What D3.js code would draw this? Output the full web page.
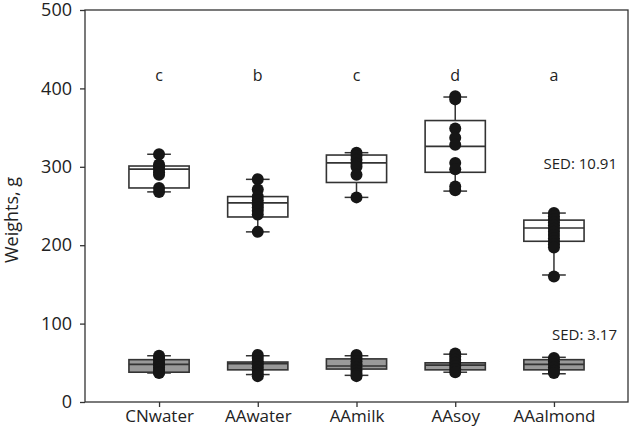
<!DOCTYPE html>
<html>
<head>
<meta charset="utf-8">
<script src="https://cdn.jsdelivr.net/npm/d3@7"></script>
<style>
  body { margin: 0; background: #fff; }
  svg { font-family: "Open Sans", sans-serif; }
</style>
</head>
<body>
<div id="chart"></div>
<script>
const categories = ['CNwater', 'AAwater', 'AAmilk', 'AAsoy', 'AAalmond'];
const letters = ['c', 'b', 'c', 'd', 'a'];
const yTicks = [0, 100, 200, 300, 400, 500];

// box stats: [whisker low, q1, median, q3, whisker high]
const totalBox = [
  [268, 273, 297, 301, 316],
  [217, 236, 254, 262, 284],
  [261, 280, 305, 315, 318],
  [269, 293, 326, 359, 389],
  [162, 205, 222, 232, 241]
];
const totalPoints = [
  [316, 303, 300, 297, 293, 290, 273, 268],
  [284, 271, 262, 257, 252, 248, 244, 239, 217],
  [318, 314, 309, 304, 300, 290, 261],
  [390, 386, 349, 337, 328, 305, 297, 275, 270],
  [241, 237, 233, 229, 225, 221, 217, 213, 209, 205, 201, 197, 160]
];
const partBox = [
  [37, 38, 48, 54, 59],
  [35, 41, 49, 51, 59],
  [34, 42, 46, 55, 59],
  [38, 41, 47, 50, 61],
  [36, 41, 48, 54, 57]
];
const partPoints = [
  [59, 56, 53, 50, 47, 44, 41, 38, 37],
  [60, 56, 52, 48, 44, 40, 36, 33],
  [60, 56, 52, 48, 44, 40, 36, 33],
  [62, 58, 54, 50, 46, 42, 38],
  [56, 52, 48, 44, 40, 37]
];
const sedLabels = [{ text: 'SED: 10.91', v: 297 }, { text: 'SED: 3.17', v: 79 }];

const width = 630;
const height = 429;
const margin = { top: 10, right: 2, bottom: 27, left: 85 };

const svg = d3.select('#chart')
  .append('svg')
  .attr('width', width)
  .attr('height', height);

const x = d3.scaleLinear()
  .domain([0.25, 5.75])
  .range([margin.left, width - margin.right]);

const y = d3.scaleLinear()
  .domain([0, 500])
  .range([height - margin.bottom, margin.top]);

const boxW = 0.61;
const capW = 0.24;
const ink = '#333';

function drawGroup(stats, points, fill) {
  const g = svg.append('g');
  stats.forEach((s, i) => {
    const cx = i + 1;
    // whisker line
    g.append('line')
      .attr('x1', x(cx)).attr('x2', x(cx))
      .attr('y1', y(s[0])).attr('y2', y(s[4]))
      .attr('stroke', ink).attr('stroke-width', 1.5);
    [s[0], s[4]].forEach(v => {
      g.append('line')
        .attr('x1', x(cx - capW / 2)).attr('x2', x(cx + capW / 2))
        .attr('y1', y(v)).attr('y2', y(v))
        .attr('stroke', ink).attr('stroke-width', 1.5);
    });
    g.append('rect')
      .attr('x', x(cx - boxW / 2))
      .attr('width', x(cx + boxW / 2) - x(cx - boxW / 2))
      .attr('y', y(s[3]))
      .attr('height', y(s[1]) - y(s[3]))
      .attr('fill', fill)
      .attr('stroke', ink).attr('stroke-width', 1.6);
    g.append('line')
      .attr('x1', x(cx - boxW / 2)).attr('x2', x(cx + boxW / 2))
      .attr('y1', y(s[2])).attr('y2', y(s[2]))
      .attr('stroke', ink).attr('stroke-width', 1.6);
    g.selectAll(null)
      .data(points[i])
      .join('circle')
        .attr('cx', x(cx))
        .attr('cy', d => y(d))
        .attr('r', 6)
        .attr('fill', '#161616');
  });
}

drawGroup(totalBox, totalPoints, '#fff');
drawGroup(partBox, partPoints, '#999');

// frame
svg.append('rect')
  .attr('x', margin.left).attr('y', margin.top)
  .attr('width', width - margin.right - margin.left)
  .attr('height', height - margin.bottom - margin.top)
  .attr('fill', 'none').attr('stroke', ink).attr('stroke-width', 1.3);

svg.append('g')
  .attr('transform', `translate(${margin.left},0)`)
  .call(d3.axisLeft(y).tickValues(yTicks).tickSize(5).tickPadding(8))
  .call(g => g.select('.domain').remove())
  .call(g => g.selectAll('line').attr('stroke', ink).attr('stroke-width', 1.3))
  .call(g => g.selectAll('text').attr('font-size', '18px').attr('fill', '#222'))
  .attr('font-family', null);

svg.append('g')
  .attr('transform', `translate(0,${height - margin.bottom})`)
  .call(d3.axisBottom(x).tickValues(d3.range(1, 6)).tickFormat(d => categories[d - 1]).tickSize(5).tickPadding(3))
  .call(g => g.select('.domain').remove())
  .call(g => g.selectAll('line').attr('stroke', ink).attr('stroke-width', 1.3))
  .call(g => g.selectAll('text').attr('font-size', '17px').attr('fill', '#222'))
  .attr('font-family', null);

svg.append('text')
  .attr('transform', `translate(18,${220}) rotate(-90)`)
  .attr('text-anchor', 'middle')
  .attr('font-size', '18px')
  .attr('fill', '#222')
  .text('Weights, g');

svg.append('g')
  .selectAll('text')
  .data(letters)
  .join('text')
    .attr('x', (d, i) => x(i + 1))
    .attr('y', y(410))
    .attr('text-anchor', 'middle')
    .attr('font-size', '16px')
    .attr('fill', '#222')
    .text(d => d);

svg.append('g')
  .selectAll('text')
  .data(sedLabels)
  .join('text')
    .attr('x', 617)
    .attr('y', d => y(d.v))
    .attr('text-anchor', 'end')
    .attr('font-size', '15px')
    .attr('fill', '#222')
    .text(d => d.text);
</script>
</body>
</html>
